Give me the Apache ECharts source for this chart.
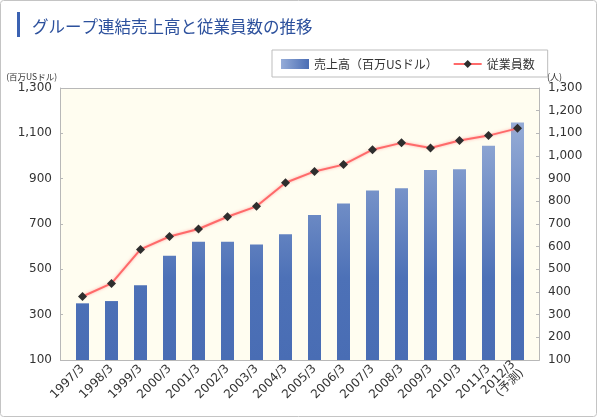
<!DOCTYPE html>
<html>
<head>
<meta charset="utf-8">
<script src="https://cdn.jsdelivr.net/npm/echarts@6/dist/echarts.min.js"></script>
<style>
  html, body { margin: 0; padding: 0; background: #fff; }
  #chart { width: 597px; height: 417px; }
</style>
</head>
<body>
<div id="chart"></div>
<script>
// 年度
var years = ['1997/3','1998/3','1999/3','2000/3','2001/3','2002/3','2003/3','2004/3',
  '2005/3','2006/3','2007/3','2008/3','2009/3','2010/3','2011/3','2012/3\n(予測)']
// 売上高（百万USドル）
var sales = [350, 360, 430, 560, 622, 622, 610, 655, 740, 790, 848, 858, 938, 942, 1045, 1148]
// 従業員数（人）
var employees = [380, 438, 588, 645, 678, 732, 778, 882, 932, 962, 1028, 1058, 1035, 1068, 1090, 1122]

var fontJP = '"Noto Sans CJK JP", sans-serif'
var fontNum = '"DejaVu Sans", "Noto Sans CJK JP", sans-serif'
var chart = echarts.init(document.getElementById('chart'))

var barColor = new echarts.graphic.LinearGradient(0, 88, 0, 360, [
  { offset: 0, color: '#a6b9dd' },
  { offset: 0.7, color: '#4d71b7' },
  { offset: 1, color: '#496db4' }
], true)

var numFmt = function (v) { return v.toLocaleString('en-US') }

var option = {
  animation: false,
  textStyle: { fontFamily: fontJP },
  title: {
    text: 'グループ連結売上高と従業員数の推移',
    left: 27,
    top: 13,
    textStyle: { fontSize: 16.5, fontWeight: 'normal', color: '#2d519d', fontFamily: fontJP }
  },
  graphic: [
    { type: 'rect', shape: { x: 0.5, y: 0.5, width: 596, height: 416, r: 3 },
      style: { fill: 'none', stroke: '#c4c4c4', lineWidth: 1 }, silent: true },
    { type: 'rect', shape: { x: 17, y: 12, width: 3, height: 25 },
      style: { fill: '#3b62b2' }, silent: true },
    // 描画エリアの枠と背景
    { type: 'rect', z: -10, shape: { x: 60.5, y: 88.5, width: 479, height: 272 },
      style: { fill: '#fffdf0', stroke: '#b8b8b8', lineWidth: 1 }, silent: true }
  ],
  legend: {
    left: 272,
    top: 50,
    padding: [8, 13, 7, 9],
    borderColor: '#bdbdbd',
    borderWidth: 1,
    itemWidth: 28,
    itemHeight: 10,
    itemGap: 15,
    textStyle: { fontSize: 12, color: '#333', fontFamily: fontJP },
    data: [
      { name: '売上高（百万USドル）', icon: 'rect',
        itemStyle: { color: new echarts.graphic.LinearGradient(0, 0, 1, 0, [
          { offset: 0, color: '#95acd8' }, { offset: 1, color: '#4a6db4' }]) } },
      { name: '従業員数' }
    ]
  },
  grid: {
    left: 68, right: 65, top: 88, bottom: 57,
    outerBoundsMode: 'none'
  },
  xAxis: {
    type: 'category',
    data: years,
    axisLine: { show: false },
    axisTick: { show: false },
    axisLabel: { rotate: 45, fontSize: 12, color: '#333', margin: 7, interval: 0,
      lineHeight: 12, fontFamily: fontNum }
  },
  yAxis: [
    {
      type: 'value',
      min: 100, max: 1300, interval: 200,
      offset: 8,
      name: '(百万USドル)',
      nameGap: 7,
      nameTextStyle: { fontSize: 8.5, color: '#333', align: 'right', padding: [0, 3, 0, 0] },
      axisLine: { show: true, lineStyle: { color: '#b8b8b8' } },
      axisTick: { show: true, inside: true, length: 3, lineStyle: { color: '#b8b8b8' } },
      splitLine: { show: false },
      axisLabel: { fontSize: 12, color: '#333', margin: 8, formatter: numFmt, fontFamily: fontNum }
    },
    {
      type: 'value',
      min: 100, max: 1300, interval: 100,
      offset: 7,
      name: '(人)',
      nameGap: 7,
      nameTextStyle: { fontSize: 9, color: '#333', align: 'left', padding: [0, 0, 0, 8] },
      axisLine: { show: true, lineStyle: { color: '#b8b8b8' } },
      axisTick: { show: true, inside: true, length: 3, lineStyle: { color: '#b8b8b8' } },
      splitLine: { show: false },
      axisLabel: { fontSize: 12, color: '#333', margin: 9, formatter: numFmt, fontFamily: fontNum }
    }
  ],
  series: [
    {
      name: '売上高（百万USドル）',
      type: 'bar',
      barWidth: 13,
      itemStyle: { color: barColor },
      data: sales
    },
    {
      name: '従業員数',
      type: 'line',
      yAxisIndex: 1,
      symbol: 'diamond',
      symbolSize: 9,
      lineStyle: { color: '#ff6a6a', width: 2, shadowColor: 'rgba(255,120,120,0.6)', shadowBlur: 3 },
      itemStyle: { color: '#2e2e2e' },
      data: employees
    }
  ]
}

chart.setOption(option)
</script>
</body>
</html>
